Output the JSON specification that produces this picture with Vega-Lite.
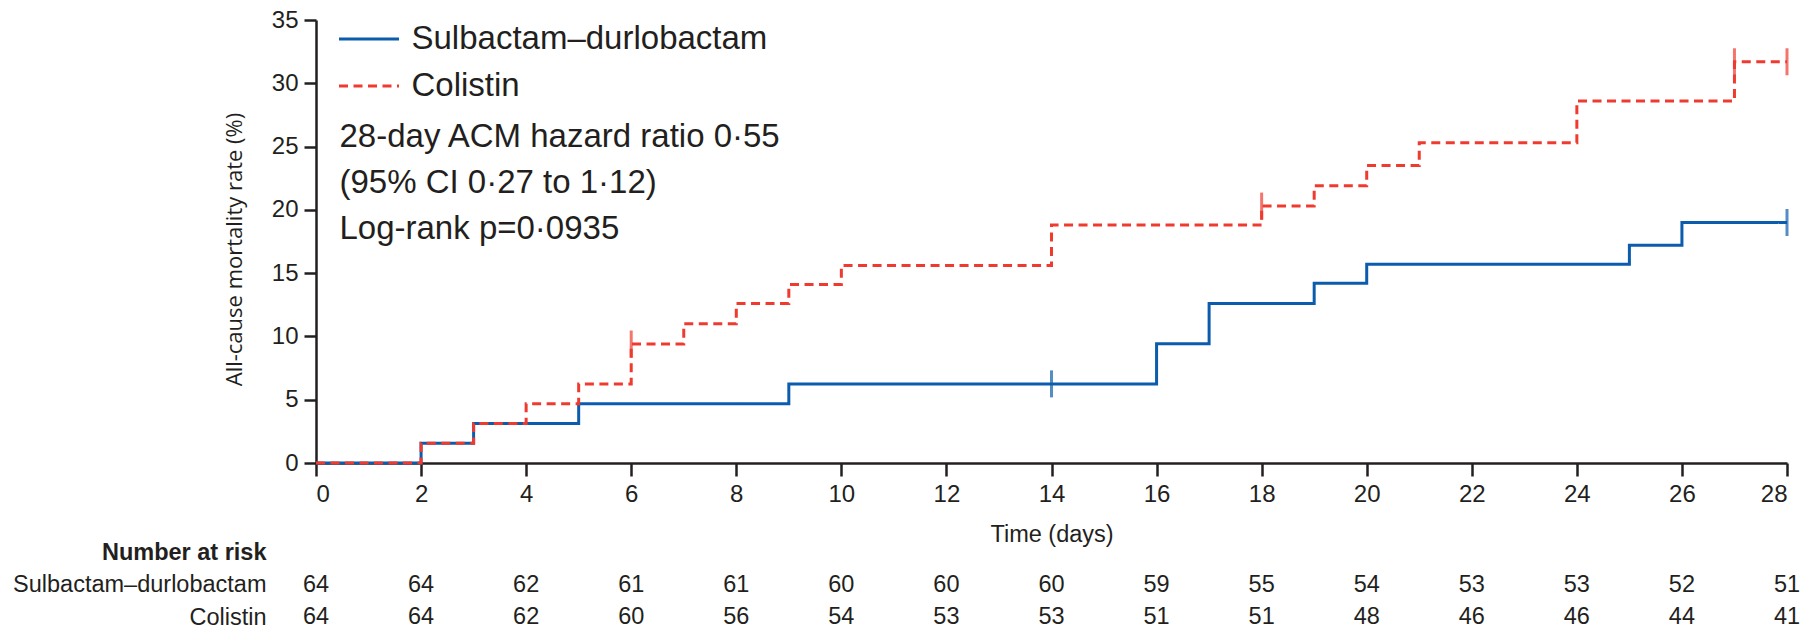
{
  "$schema": "https://vega.github.io/schema/vega-lite/v6.json",
  "padding": {"left": 12, "top": 8, "right": 5, "bottom": 2},
  "autosize": {"type": "pad"},
  "background": "white",
  "bounds": "flush",
  "spacing": 89,
  "config": {
    "view": {"stroke": null},
    "font": "Liberation Sans",
    "axis": {
      "labelFont": "Liberation Sans",
      "labelColor": "#231f20",
      "titleColor": "#231f20",
      "domainColor": "#231f20",
      "tickColor": "#231f20",
      "grid": false
    },
    "legend": {"clipHeight": 33}
  },
  "datasets": {
    "km": [
      {"group": "Sulbactam–durlobactam", "time": 0, "pct": 0},
      {"group": "Sulbactam–durlobactam", "time": 2, "pct": 1.56},
      {"group": "Sulbactam–durlobactam", "time": 3, "pct": 3.13},
      {"group": "Sulbactam–durlobactam", "time": 5, "pct": 4.69},
      {"group": "Sulbactam–durlobactam", "time": 9, "pct": 6.25},
      {"group": "Sulbactam–durlobactam", "time": 16, "pct": 9.43},
      {"group": "Sulbactam–durlobactam", "time": 17, "pct": 12.6},
      {"group": "Sulbactam–durlobactam", "time": 19, "pct": 14.2},
      {"group": "Sulbactam–durlobactam", "time": 20, "pct": 15.7},
      {"group": "Sulbactam–durlobactam", "time": 25, "pct": 17.2},
      {"group": "Sulbactam–durlobactam", "time": 26, "pct": 19.0},
      {"group": "Sulbactam–durlobactam", "time": 28, "pct": 19.0},
      {"group": "Colistin", "time": 0, "pct": 0},
      {"group": "Colistin", "time": 2, "pct": 1.56},
      {"group": "Colistin", "time": 3, "pct": 3.13},
      {"group": "Colistin", "time": 4, "pct": 4.69},
      {"group": "Colistin", "time": 5, "pct": 6.25},
      {"group": "Colistin", "time": 6, "pct": 9.4},
      {"group": "Colistin", "time": 7, "pct": 11.0},
      {"group": "Colistin", "time": 8, "pct": 12.6},
      {"group": "Colistin", "time": 9, "pct": 14.1},
      {"group": "Colistin", "time": 10, "pct": 15.6},
      {"group": "Colistin", "time": 14, "pct": 18.8},
      {"group": "Colistin", "time": 18, "pct": 20.3},
      {"group": "Colistin", "time": 19, "pct": 21.9},
      {"group": "Colistin", "time": 20, "pct": 23.5},
      {"group": "Colistin", "time": 21, "pct": 25.3},
      {"group": "Colistin", "time": 24, "pct": 28.6},
      {"group": "Colistin", "time": 27, "pct": 31.7},
      {"group": "Colistin", "time": 28, "pct": 31.7}
    ],
    "censor": [
      {"group": "Sulbactam–durlobactam", "time": 14, "pct": 6.25},
      {"group": "Sulbactam–durlobactam", "time": 28, "pct": 19.0},
      {"group": "Colistin", "time": 6, "pct": 9.4},
      {"group": "Colistin", "time": 18, "pct": 20.3},
      {"group": "Colistin", "time": 27, "pct": 31.7},
      {"group": "Colistin", "time": 28, "pct": 31.7}
    ],
    "notes": [
      {"line": "28-day ACM hazard ratio 0·55"},
      {"line": "(95% CI 0·27 to 1·12)"},
      {"line": "Log-rank p=0·0935"}
    ],
    "risk": [
      {"group": "Sulbactam–durlobactam", "time": 0, "n": 64},
      {"group": "Sulbactam–durlobactam", "time": 2, "n": 64},
      {"group": "Sulbactam–durlobactam", "time": 4, "n": 62},
      {"group": "Sulbactam–durlobactam", "time": 6, "n": 61},
      {"group": "Sulbactam–durlobactam", "time": 8, "n": 61},
      {"group": "Sulbactam–durlobactam", "time": 10, "n": 60},
      {"group": "Sulbactam–durlobactam", "time": 12, "n": 60},
      {"group": "Sulbactam–durlobactam", "time": 14, "n": 60},
      {"group": "Sulbactam–durlobactam", "time": 16, "n": 59},
      {"group": "Sulbactam–durlobactam", "time": 18, "n": 55},
      {"group": "Sulbactam–durlobactam", "time": 20, "n": 54},
      {"group": "Sulbactam–durlobactam", "time": 22, "n": 53},
      {"group": "Sulbactam–durlobactam", "time": 24, "n": 53},
      {"group": "Sulbactam–durlobactam", "time": 26, "n": 52},
      {"group": "Sulbactam–durlobactam", "time": 28, "n": 51},
      {"group": "Colistin", "time": 0, "n": 64},
      {"group": "Colistin", "time": 2, "n": 64},
      {"group": "Colistin", "time": 4, "n": 62},
      {"group": "Colistin", "time": 6, "n": 60},
      {"group": "Colistin", "time": 8, "n": 56},
      {"group": "Colistin", "time": 10, "n": 54},
      {"group": "Colistin", "time": 12, "n": 53},
      {"group": "Colistin", "time": 14, "n": 53},
      {"group": "Colistin", "time": 16, "n": 51},
      {"group": "Colistin", "time": 18, "n": 51},
      {"group": "Colistin", "time": 20, "n": 48},
      {"group": "Colistin", "time": 22, "n": 46},
      {"group": "Colistin", "time": 24, "n": 46},
      {"group": "Colistin", "time": 26, "n": 44},
      {"group": "Colistin", "time": 28, "n": 41}
    ]
  },
  "vconcat": [
    {
      "width": 1471,
      "height": 443,
      "layer": [
        {
          "data": {"name": "km"},
          "transform": [{"filter": "datum.group === 'Sulbactam–durlobactam'"}],
          "mark": {"type": "line", "interpolate": "step-after", "strokeWidth": 3},
          "encoding": {
            "x": {
              "field": "time",
              "type": "quantitative",
              "scale": {"domain": [0, 28], "nice": false},
              "axis": {
                "values": [0, 2, 4, 6, 8, 10, 12, 14, 16, 18, 20, 22, 24, 26, 28],
                "title": "Time (days)",
                "titleFont": "Liberation Sans",
                "titleFontSize": 23.5,
                "titleFontWeight": "normal",
                "titlePadding": 16,
                "labelFontSize": 24,
                "labelPadding": 6,
                "tickSize": 13,
                "tickWidth": 2.5,
                "domainWidth": 2.5
              }
            },
            "y": {
              "field": "pct",
              "type": "quantitative",
              "scale": {"domain": [0, 35], "nice": false},
              "axis": {
                "values": [0, 5, 10, 15, 20, 25, 30, 35],
                "title": "All-cause mortality rate (%)",
                "titleFont": "Open Sans",
                "titleFontSize": 22,
                "titleFontWeight": "normal",
                "titlePadding": 25,
                "titleY": 229,
                "labelFontSize": 24,
                "labelPadding": 6,
                "tickSize": 12,
                "tickWidth": 2.5,
                "domainWidth": 2.5
              }
            },
            "color": {
              "field": "group",
              "type": "nominal",
              "scale": {"domain": ["Sulbactam–durlobactam", "Colistin"], "range": ["#0B5CAD", "#EF3B2F"]},
              "legend": {"orient": "none", "legendX": 21.5, "legendY": 2.5, "title": null, "symbolType": "stroke", "symbolSize": 3600, "symbolStrokeWidth": 3, "labelFontSize": 33, "labelFont": "Liberation Sans", "labelColor": "#231f20", "labelOffset": 11, "rowPadding": 13, "padding": 0, "clipHeight": 33, "labelLimit": 600}
            },
            "strokeDash": {
              "field": "group",
              "type": "nominal",
              "scale": {"domain": ["Sulbactam–durlobactam", "Colistin"], "range": [[1, 0], [9, 5.5]]},
              "legend": {"orient": "none", "legendX": 21.5, "legendY": 2.5, "title": null, "symbolType": "stroke", "symbolSize": 3600, "symbolStrokeWidth": 3, "labelFontSize": 33, "labelFont": "Liberation Sans", "labelColor": "#231f20", "labelOffset": 11, "rowPadding": 13, "padding": 0, "clipHeight": 33, "labelLimit": 600}
            }
          }
        },
        {
          "data": {"name": "km"},
          "transform": [{"filter": "datum.group === 'Colistin'"}],
          "mark": {"type": "line", "interpolate": "step-after", "strokeWidth": 3},
          "encoding": {
            "x": {"field": "time", "type": "quantitative"},
            "y": {"field": "pct", "type": "quantitative"},
            "color": {
              "field": "group",
              "type": "nominal",
              "scale": {"domain": ["Sulbactam–durlobactam", "Colistin"], "range": ["#0B5CAD", "#EF3B2F"]},
              "legend": {"orient": "none", "legendX": 21.5, "legendY": 2.5, "title": null, "symbolType": "stroke", "symbolSize": 3600, "symbolStrokeWidth": 3, "labelFontSize": 33, "labelFont": "Liberation Sans", "labelColor": "#231f20", "labelOffset": 11, "rowPadding": 13, "padding": 0, "clipHeight": 33, "labelLimit": 600}
            },
            "strokeDash": {
              "field": "group",
              "type": "nominal",
              "scale": {"domain": ["Sulbactam–durlobactam", "Colistin"], "range": [[1, 0], [9, 5.5]]},
              "legend": {"orient": "none", "legendX": 21.5, "legendY": 2.5, "title": null, "symbolType": "stroke", "symbolSize": 3600, "symbolStrokeWidth": 3, "labelFontSize": 33, "labelFont": "Liberation Sans", "labelColor": "#231f20", "labelOffset": 11, "rowPadding": 13, "padding": 0, "clipHeight": 33, "labelLimit": 600}
            }
          }
        },
        {
          "data": {"name": "censor"},
          "mark": {"type": "tick", "orient": "vertical", "size": 27, "thickness": 3},
          "encoding": {
            "x": {"field": "time", "type": "quantitative"},
            "y": {"field": "pct", "type": "quantitative"},
            "color": {
              "field": "group",
              "type": "nominal",
              "scale": {"domain": ["Sulbactam–durlobactam", "Colistin"], "range": ["#0B5CAD", "#EF3B2F"]},
              "legend": null
            }
          }
        },
        {
          "data": {"name": "notes"},
          "transform": [{"filter": "datum.line === '28-day ACM hazard ratio 0·55'"}],
          "mark": {"type": "text", "align": "left", "baseline": "alphabetic", "fontSize": 33, "color": "#231f20", "font": "Liberation Sans"},
          "encoding": {
            "x": {"datum": 0.447, "type": "quantitative"},
            "y": {"datum": 24.94, "type": "quantitative"},
            "text": {"field": "line", "type": "nominal"}
          }
        },
        {
          "data": {"name": "notes"},
          "transform": [{"filter": "datum.line === '(95% CI 0·27 to 1·12)'"}],
          "mark": {"type": "text", "align": "left", "baseline": "alphabetic", "fontSize": 33, "color": "#231f20", "font": "Liberation Sans"},
          "encoding": {
            "x": {"datum": 0.447, "type": "quantitative"},
            "y": {"datum": 21.3, "type": "quantitative"},
            "text": {"field": "line", "type": "nominal"}
          }
        },
        {
          "data": {"name": "notes"},
          "transform": [{"filter": "datum.line === 'Log-rank p=0·0935'"}],
          "mark": {"type": "text", "align": "left", "baseline": "alphabetic", "fontSize": 33, "color": "#231f20", "font": "Liberation Sans"},
          "encoding": {
            "x": {"datum": 0.447, "type": "quantitative"},
            "y": {"datum": 17.66, "type": "quantitative"},
            "text": {"field": "line", "type": "nominal"}
          }
        }
      ]
    },
    {
      "width": 1471,
      "height": 65,
      "data": {"name": "risk"},
      "mark": {"type": "text", "fontSize": 23.5, "color": "#231f20", "font": "Liberation Sans", "baseline": "middle", "align": "center"},
      "encoding": {
        "x": {"field": "time", "type": "quantitative", "scale": {"domain": [0, 28], "nice": false}, "axis": null},
        "y": {
          "field": "group",
          "type": "nominal",
          "scale": {"type": "point", "padding": 0, "domain": ["Number at risk", "Sulbactam–durlobactam", "Colistin"]},
          "axis": {
            "title": null,
            "domain": false,
            "ticks": false,
            "tickSize": 0,
            "labelPadding": 50,
            "labelFontSize": 23.5,
            "labelLimit": 400,
            "labelFontWeight": {"condition": {"test": "datum.value === 'Number at risk'", "value": "bold"}, "value": "normal"}
          }
        },
        "text": {"field": "n", "type": "quantitative"}
      }
    }
  ]
}
